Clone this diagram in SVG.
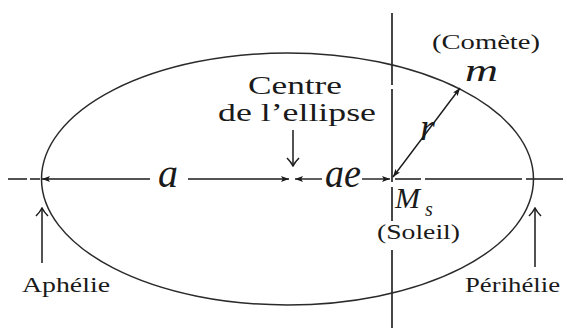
<svg xmlns="http://www.w3.org/2000/svg" width="567" height="331" viewBox="0 0 567 331" font-family="'Liberation Serif', 'Times New Roman', 'DejaVu Serif', serif">
<style>
.ax{stroke:#1a1a1a;stroke-width:1.6;fill:none}
.el{stroke:#2a2a2a;stroke-width:1.5;fill:none}
.con{stroke:#1a1a1a;stroke-width:1.4;fill:none}
.ptr{stroke:#1a1a1a;stroke-width:1.5;fill:none}
text{font-family:'Liberation Serif','Times New Roman','DejaVu Serif',serif;fill:#1a1a1a}
.rm{font-size:22px}
.big{font-size:26px}
.math{font-style:italic}
</style>
<defs>
<marker id="st" viewBox="0 0 8 6" refX="8" refY="3" markerWidth="8" markerHeight="6" markerUnits="userSpaceOnUse" orient="auto-start-reverse">
<path d="M0,0 L8,3 L0,6 L1.8,3 z" fill="#1a1a1a"/>
</marker>
<marker id="op" viewBox="0 0 10 14" refX="9" refY="7" markerWidth="10" markerHeight="14" markerUnits="userSpaceOnUse" orient="auto">
<path d="M1,1 Q5,5 9,7 Q5,9 1,13" fill="none" stroke="#1a1a1a" stroke-width="1.5"/>
</marker>
</defs>

<g id="axes">
<path class="ax" d="M8,179 H27 M30,179 H40 M395,179 H421 M425,179 H522 M526,179 H563"/>
<path class="ax" d="M392,13 V85 M392,89 V182 M392,187 V221 M392,250 V328"/>
</g>

<g id="ellipse">
<ellipse class="el" cx="287.5" cy="179" rx="246" ry="126"/>
</g>

<g id="connectors">
<line class="con" x1="150" y1="179" x2="42" y2="179" marker-end="url(#st)"/>
<line class="con" x1="188" y1="179" x2="289" y2="179" marker-end="url(#st)"/>
<line class="con" x1="322" y1="179" x2="295" y2="179" marker-end="url(#st)"/>
<line class="con" x1="362" y1="179" x2="390" y2="179" marker-end="url(#st)"/>
<line class="con" x1="393" y1="177" x2="460" y2="88" marker-start="url(#st)" marker-end="url(#st)"/>
<line class="ptr" x1="293" y1="130" x2="293" y2="166" marker-end="url(#op)"/>
<line class="ptr" x1="42" y1="263" x2="42" y2="208" marker-end="url(#op)"/>
<line class="ptr" x1="535" y1="267" x2="535" y2="208" marker-end="url(#op)"/>
</g>

<g id="centre">
<text class="big" x="295" y="94" text-anchor="middle" textLength="94" lengthAdjust="spacingAndGlyphs">Centre</text>
<text class="big" x="297" y="121" text-anchor="middle" textLength="158" lengthAdjust="spacingAndGlyphs">de l’ellipse</text>
</g>

<g id="comete">
<text class="rm" x="432" y="49" font-size="20" textLength="108" lengthAdjust="spacingAndGlyphs">(Comète)</text>
<text class="math" x="465" y="81" font-size="31" textLength="33" lengthAdjust="spacingAndGlyphs">m</text>
</g>

<g id="labels">
<text class="math" x="420" y="140" font-size="38">r</text>
<text class="math" x="158" y="187" font-size="40">a</text>
<text class="math" x="325" y="187" font-size="40" textLength="36" lengthAdjust="spacingAndGlyphs">ae</text>
</g>

<g id="soleil">
<text class="math" x="395" y="208" font-size="30">M<tspan x="425" y="216" font-size="20">s</tspan></text>
<text class="rm" x="377" y="239" textLength="83" lengthAdjust="spacingAndGlyphs">(Soleil)</text>
</g>

<g id="aphelie">
<text class="rm" x="22" y="292" textLength="88" lengthAdjust="spacingAndGlyphs">Aphélie</text>
</g>

<g id="perihelie">
<text class="rm" x="465" y="292" textLength="95" lengthAdjust="spacingAndGlyphs">Périhélie</text>
</g>
</svg>
